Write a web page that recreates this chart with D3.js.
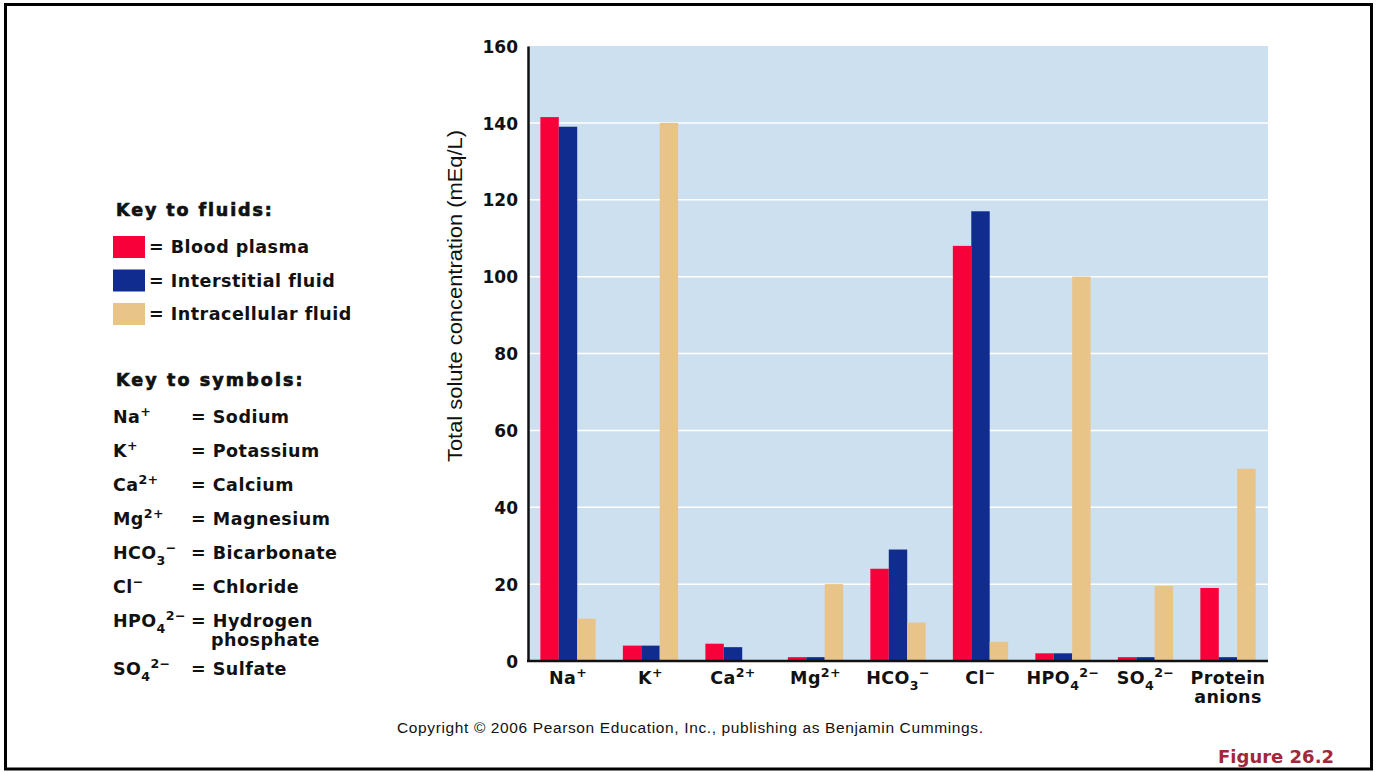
<!DOCTYPE html>
<html>
<head>
<meta charset="UTF-8">
<script src="https://d3js.org/d3.v7.min.js"></script>
<style>
  body { margin: 0; background: #fff; }
  text { font-family: "Liberation Sans", Arial, sans-serif; }
  .b { font-family: "DejaVu Sans", sans-serif; font-weight: bold; fill: #111; }
</style>
</head>
<body>
<svg id="canvas"></svg>
<script>
width = 1376;
height = 772;

// data (mEq/L)
categories = ["Na+", "K+", "Ca2+", "Mg2+", "HCO3-", "Cl-", "HPO42-", "SO42-", "Protein anions"];
catLabels = [
  [["Na",""],["+","sup"]],
  [["K",""],["+","sup"]],
  [["Ca",""],["2+","sup"]],
  [["Mg",""],["2+","sup"]],
  [["HCO",""],["3","sub"],["\u2212","sup"]],
  [["Cl",""],["\u2212","sup"]],
  [["HPO",""],["4","sub"],["2\u2212","sup"]],
  [["SO",""],["4","sub"],["2\u2212","sup"]],
  [["Protein",""]]
];
bloodPlasma   = [141.5, 4, 4.5, 1, 24, 108, 2, 1, 19];
interstitial  = [139, 4, 3.6, 1, 29, 117, 2, 1, 1];
intracellular = [11, 140, 0, 20, 10, 5, 100, 19.5, 50];
yTicks = [0, 20, 40, 60, 80, 100, 120, 140, 160];

seriesNames = ["Blood plasma", "Interstitial fluid", "Intracellular fluid"];
seriesColors = ["#f8003a", "#102c8e", "#e8c488"];
seriesValues = [bloodPlasma, interstitial, intracellular];

symbolRows = [
  [[["Na",""],["+","sup"]], ["= Sodium"]],
  [[["K",""],["+","sup"]], ["= Potassium"]],
  [[["Ca",""],["2+","sup"]], ["= Calcium"]],
  [[["Mg",""],["2+","sup"]], ["= Magnesium"]],
  [[["HCO",""],["3","sub"],["\u2212","sup"]], ["= Bicarbonate"]],
  [[["Cl",""],["\u2212","sup"]], ["= Chloride"]],
  [[["HPO",""],["4","sub"],["2\u2212","sup"]], ["= Hydrogen", "phosphate"]],
  [[["SO",""],["4","sub"],["2\u2212","sup"]], ["= Sulfate"]]
];

canvas = d3.select("#canvas").attr("width", width).attr("height", height);

// slide frame
canvas.append("rect")
  .attr("x", 5.5).attr("y", 4.5).attr("width", 1366).attr("height", 764.5)
  .attr("fill", "#fff").attr("stroke", "#000").attr("stroke-width", 3);

// rich text helper: sub/superscripts via tspans
function rich(sel, parts, size) {
  var shift = 0;
  parts.forEach(function (p) {
    var target = p[1] === "sup" ? -size * 0.42 : p[1] === "sub" ? size * 0.32 : 0;
    sel.append("tspan")
      .attr("dy", target - shift)
      .attr("font-size", p[1] ? size * 0.72 : size)
      .text(p[0]);
    shift = target;
  });
}

plot = { left: 528, right: 1268, top: 46, bottom: 661 };

x0 = d3.scaleBand()
  .domain(categories)
  .range([plot.left, plot.right])
  .paddingInner(0.33)
  .paddingOuter(0.15);

x1 = d3.scaleBand()
  .domain(d3.range(seriesNames.length))
  .range([0, x0.bandwidth()]);

y = d3.scaleLinear().domain([0, 160]).range([plot.bottom, plot.top]);

// background
canvas.append("rect")
  .attr("x", plot.left).attr("y", plot.top)
  .attr("width", plot.right - plot.left).attr("height", plot.bottom - plot.top)
  .attr("fill", "#cde0ef");

// gridlines
canvas.append("g").selectAll("line")
  .data(yTicks.filter(function (d) { return d > 0 && d < 160; }))
  .join("line")
  .attr("x1", plot.left).attr("x2", plot.right)
  .attr("y1", function (d) { return y(d); }).attr("y2", function (d) { return y(d); })
  .attr("stroke", "#fff").attr("stroke-width", 1.5);

// bars
groups = canvas.append("g").selectAll("g")
  .data(categories)
  .join("g")
  .attr("transform", function (d) { return "translate(" + x0(d) + ",0)"; });

groups.selectAll("rect")
  .data(function (d, i) { return seriesValues.map(function (s, j) { return { j: j, v: s[i] }; }); })
  .join("rect")
  .attr("x", function (d) { return x1(d.j); })
  .attr("width", x1.bandwidth())
  .attr("y", function (d) { return y(d.v); })
  .attr("height", function (d) { return y(0) - y(d.v); })
  .attr("fill", function (d) { return seriesColors[d.j]; });

// y axis
yAxis = canvas.append("g")
  .attr("transform", "translate(" + plot.left + ",0)")
  .call(d3.axisLeft(y).tickValues(yTicks).tickSize(0).tickPadding(10));
yAxis.select(".domain").attr("stroke", "#111").attr("stroke-width", 2.5);
yAxis.selectAll("text")
  .attr("class", "b")
  .attr("font-size", 17)
  .attr("dy", "0.36em");

// x axis line
canvas.append("line")
  .attr("x1", plot.left - 1).attr("x2", plot.right)
  .attr("y1", plot.bottom).attr("y2", plot.bottom)
  .attr("stroke", "#111").attr("stroke-width", 2.5);

// x labels
categories.forEach(function (c, i) {
  var t = canvas.append("text")
    .attr("class", "b")
    .attr("x", x0(c) + x0.bandwidth() / 2)
    .attr("y", 684)
    .attr("text-anchor", "middle")
    .attr("letter-spacing", 0.4);
  rich(t, catLabels[i], 17.5);
  if (c === "Protein anions") {
    canvas.append("text")
      .attr("class", "b")
      .attr("x", x0(c) + x0.bandwidth() / 2)
      .attr("y", 703)
      .attr("text-anchor", "middle")
      .attr("letter-spacing", 0.4)
      .attr("font-size", 17.5)
      .text("anions");
  }
});

// y title
canvas.append("text")
  .attr("transform", "translate(462,296) rotate(-90)")
  .attr("text-anchor", "middle")
  .attr("font-size", 21).attr("fill", "#111")
  .attr("textLength", 332).attr("lengthAdjust", "spacingAndGlyphs")
  .text("Total solute concentration (mEq/L)");

// key to fluids
canvas.append("text")
  .attr("class", "b")
  .attr("x", 116).attr("y", 216)
  .attr("font-size", 17.5).attr("letter-spacing", 1.9)
  .attr("stroke", "#111").attr("stroke-width", 0.7)
  .text("Key to fluids:");

seriesNames.forEach(function (n, i) {
  var yy = 236 + i * 33.5;
  canvas.append("rect")
    .attr("x", 113).attr("y", yy).attr("width", 32).attr("height", 22)
    .attr("fill", seriesColors[i]);
  canvas.append("text")
    .attr("class", "b")
    .attr("x", 149).attr("y", yy + 17)
    .attr("font-size", 17.5).attr("letter-spacing", 0.5)
    .text("= " + n);
});

// key to symbols
canvas.append("text")
  .attr("class", "b")
  .attr("x", 116).attr("y", 386)
  .attr("font-size", 17.5).attr("letter-spacing", 2.1)
  .attr("stroke", "#111").attr("stroke-width", 0.7)
  .text("Key to symbols:");

var rowY = 423;
symbolRows.forEach(function (r) {
  var t = canvas.append("text")
    .attr("class", "b")
    .attr("x", 113).attr("y", rowY)
    .attr("letter-spacing", 0.4);
  rich(t, r[0], 17.5);
  r[1].forEach(function (line, k) {
    canvas.append("text")
      .attr("class", "b")
      .attr("x", k === 0 ? 191 : 211).attr("y", rowY + k * 19)
      .attr("font-size", 17.5).attr("letter-spacing", 0.5)
      .text(line);
  });
  rowY += r[1].length > 1 ? 48 : 34;
});

// copyright
canvas.append("text")
  .attr("x", 397).attr("y", 733)
  .attr("font-size", 15.5).attr("fill", "#111")
  .attr("textLength", 586).attr("lengthAdjust", "spacing")
  .text("Copyright \u00a9 2006 Pearson Education, Inc., publishing as Benjamin Cummings.");

// figure number
canvas.append("text")
  .attr("x", 1334).attr("y", 763)
  .attr("text-anchor", "end")
  .attr("font-size", 18).attr("font-weight", "bold").attr("fill", "#a3263a")
  .style("font-family", "'DejaVu Sans', sans-serif")
  .text("Figure 26.2");
</script>
</body>
</html>
